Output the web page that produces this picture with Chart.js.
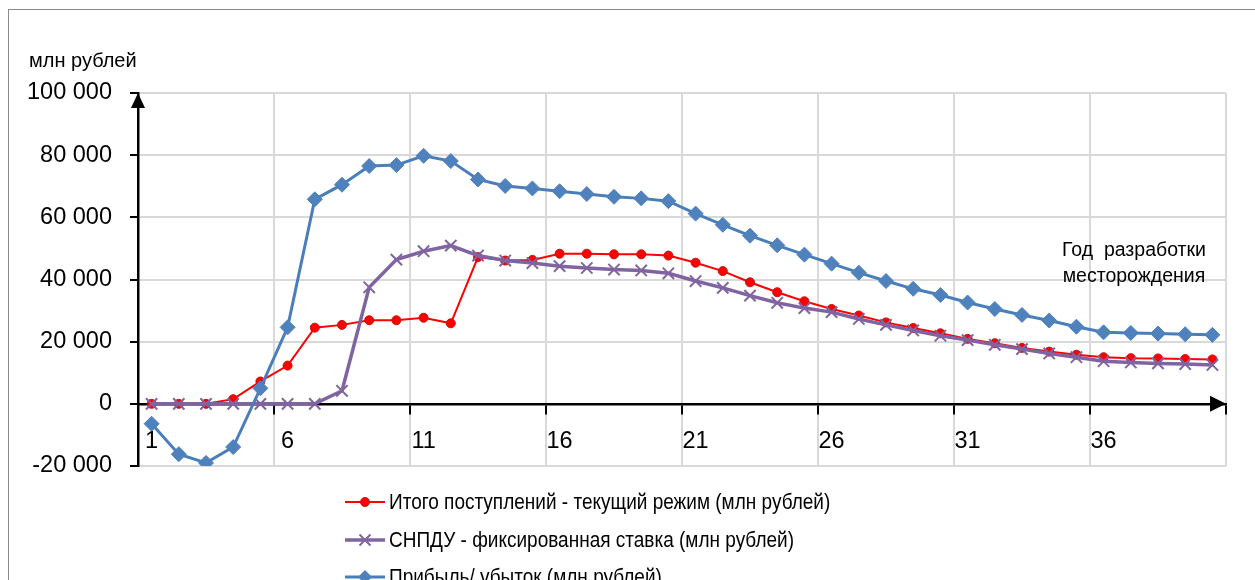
<!DOCTYPE html>
<html>
<head>
<meta charset="utf-8">
<script src="https://cdn.jsdelivr.net/npm/chart.js@4.4.1/dist/chart.umd.min.js"></script>
<style>
  html, body { margin: 0; padding: 0; background: #fff; }
  #wrap { position: relative; width: 1255px; height: 580px; overflow: hidden; font-family: "Liberation Sans", Arial, sans-serif; }
  #frame { position: absolute; left: 8px; top: 9px; width: 1400px; height: 800px; border: 1.5px solid #8a8a8a; }
  #c { position: absolute; left: 0; top: 0; }
  .txt { position: absolute; white-space: nowrap; color: #000; transform-origin: left center; }
  .leg { position: absolute; left: 344px; height: 30px; display: flex; align-items: center; }
  .leg svg { display: block; }
  .leg span { font-size: 21.5px; display: inline-block; transform: scaleX(0.884); transform-origin: left center; margin-left: 3px; white-space: nowrap; }
</style>
</head>
<body>
<div id="wrap">
  <div id="frame"></div>
  <canvas id="c" width="1255" height="580"></canvas>
  <div class="txt" style="left:29px; top:49px; font-size:20px; line-height:normal;">млн рублей</div>
  <div class="txt" style="left:1062px; top:236px; font-size:19.5px; line-height:26px; text-align:center;">Год&nbsp; разработки<br>месторождения</div>
  <div id="legend"></div>
</div>
<script>
// ---- data ----
const years = Array.from({length: 40}, (_, i) => String(i + 1));

const revenueCurrent = [0, 0, 0, 1500, 7200, 12300, 24500, 25400, 26900, 26900,
  27700, 25900, 47200, 46100, 46300, 48300, 48300, 48100, 48100, 47700,
  45400, 42700, 39100, 35900, 33000, 30500, 28400, 26200, 24400, 22700,
  20900, 19500, 18000, 16800, 15800, 15000, 14700, 14600, 14400, 14300];

const snpduFixed = [0, 0, 0, 0, 0, 0, 0, 4200, 37500, 46400,
  49100, 50900, 47700, 46100, 45300, 44300, 43700, 43200, 42900, 42000,
  39500, 37300, 34800, 32500, 30800, 29500, 27300, 25400, 23600, 21900,
  20500, 19000, 17600, 16200, 15000, 13700, 13300, 13000, 12800, 12500];

const profitLoss = [-6400, -16200, -19000, -13900, 5000, 24600, 65800, 70500, 76500, 76800,
  79800, 78100, 72200, 70100, 69300, 68400, 67500, 66600, 66100, 65200,
  61200, 57600, 54100, 51000, 48000, 45100, 42200, 39500, 37000, 35000,
  32600, 30500, 28600, 26800, 24800, 23000, 22800, 22600, 22400, 22200];

const seriesNames = [
  "Итого поступлений - текущий режим (млн рублей)",
  "СНПДУ - фиксированная ставка (млн рублей)",
  "Прибыль/ убыток (млн рублей)"
];

const yMin = -20000, yMax = 100000, yStep = 20000;
const labelEvery = 5;

const fmt = v => String(v).replace(/\B(?=(\d{3})+(?!\d))/g, ' ');

const RED = '#ff0000', PURPLE = '#8064a2', BLUE = '#4a7ebb';
const GRID = '#d9d9d9';

const arrows = {
  id: 'arrows',
  afterDraw(chart) {
    const ctx = chart.ctx, a = chart.chartArea;
    const y0 = chart.scales.y.getPixelForValue(0);
    const xl = a.left;
    ctx.save();
    ctx.fillStyle = '#000';
    ctx.beginPath();
    ctx.moveTo(xl, a.top);
    ctx.lineTo(xl - 7, a.top + 15);
    ctx.lineTo(xl + 7, a.top + 15);
    ctx.closePath(); ctx.fill();
    ctx.beginPath();
    ctx.moveTo(a.right, y0);
    ctx.lineTo(a.right - 16, y0 - 8);
    ctx.lineTo(a.right - 16, y0 + 8);
    ctx.closePath(); ctx.fill();
    ctx.restore();
  }
};

const chart = new Chart(document.getElementById('c'), {
  type: 'line',
  data: {
    labels: years,
    datasets: [
      {
        label: seriesNames[0], data: revenueCurrent, order: 3,
        borderColor: RED, borderWidth: 2,
        pointStyle: 'circle', pointRadius: 4.5, pointBackgroundColor: RED,
        pointBorderColor: '#c81010', pointBorderWidth: 1, tension: 0
      },
      {
        label: seriesNames[1], data: snpduFixed, order: 2,
        borderColor: PURPLE, borderWidth: 3.5,
        pointStyle: 'crossRot', pointRadius: 8, pointBorderColor: PURPLE,
        pointBorderWidth: 2, tension: 0
      },
      {
        label: seriesNames[2], data: profitLoss, order: 1,
        borderColor: BLUE, borderWidth: 3,
        pointStyle: 'rectRot', pointRadius: 7.5, pointBackgroundColor: '#4f81bd',
        pointBorderColor: '#4f81bd', pointBorderWidth: 1, tension: 0
      }
    ]
  },
  options: {
    responsive: false,
    animation: false,
    devicePixelRatio: 1,
    layout: { padding: { top: 93, bottom: 114, left: 0, right: 29 } },
    plugins: { legend: { display: false }, tooltip: { enabled: false } },
    scales: {
      x: {
        type: 'category',
        offset: true,
        position: { y: 0 },
        border: { display: true, color: '#000', width: 2.5 },
        grid: {
          offset: true,
          lineWidth: 2,
          color: ctx => (ctx.index === undefined) ? GRID : (ctx.index === 0 ? 'rgba(0,0,0,0)' : (ctx.index % labelEvery === 0 ? GRID : 'rgba(0,0,0,0)')),
          tickColor: ctx => (ctx.index === undefined || ctx.index % labelEvery === 0) ? '#000' : 'rgba(0,0,0,0)',
          tickLength: 9,
          tickWidth: 2
        },
        ticks: {
          autoSkip: false, maxRotation: 0, minRotation: 0,
          padding: 15, color: '#000',
          font: { family: "'Liberation Sans', Arial, sans-serif", size: 23.5 },
          callback: function (v, i) { return i % labelEvery === 0 ? this.getLabelForValue(v) : ''; }
        }
      },
      y: {
        min: yMin, max: yMax,
        border: { display: true, color: '#000', width: 2.5 },
        grid: {
          lineWidth: 2,
          color: ctx => (ctx.tick && ctx.tick.value === 0) ? 'rgba(0,0,0,0)' : GRID,
          tickColor: '#000', tickLength: 8, tickWidth: 2
        },
        ticks: {
          stepSize: yStep, padding: 18, color: '#000',
          font: { family: "'Liberation Sans', Arial, sans-serif", size: 23.5 },
          callback: v => fmt(v)
        },
        afterFit: s => { s.width = 138; }
      }
    }
  },
  plugins: [arrows]
});

// ---- HTML legend (vertical list, as in reference) ----
const legendDefs = [
  { color: RED, lw: 2, marker: 'circle' },
  { color: PURPLE, lw: 3.5, marker: 'cross' },
  { color: BLUE, lw: 3, marker: 'diamond' }
];
const rowTops = [487, 525, 562];
const legend = document.getElementById('legend');
chart.data.datasets.forEach((ds, i) => {
  const d = legendDefs[i];
  let m = '';
  if (d.marker === 'circle') m = `<circle cx="21" cy="15" r="4.5" fill="${RED}" stroke="#c81010" stroke-width="1"/>`;
  if (d.marker === 'cross') m = `<path d="M15.5 9.5 L26.5 20.5 M26.5 9.5 L15.5 20.5" stroke="${PURPLE}" stroke-width="2"/>`;
  if (d.marker === 'diamond') m = `<path d="M21 8 L28 15 L21 22 L14 15 Z" fill="#4f81bd"/>`;
  const row = document.createElement('div');
  row.className = 'leg';
  row.style.top = rowTops[i] + 'px';
  row.innerHTML = `<svg width="42" height="30"><line x1="1" y1="15" x2="41" y2="15" stroke="${d.color}" stroke-width="${d.lw}"/>${m}</svg><span>${ds.label}</span>`;
  legend.appendChild(row);
});
</script>
</body>
</html>
